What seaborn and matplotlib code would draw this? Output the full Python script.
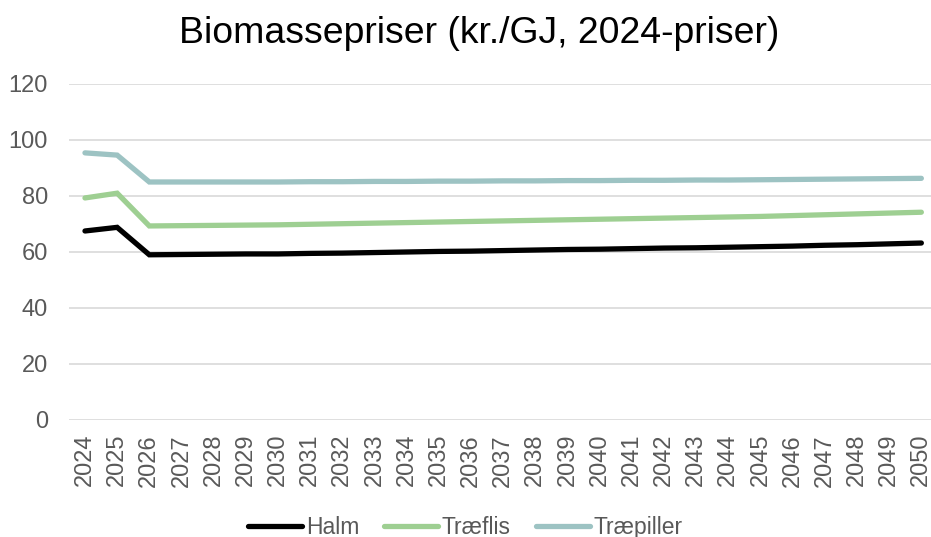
import pandas as pd
import seaborn as sns
import matplotlib.pyplot as plt

years = list(range(2024, 2051))
halm = [67.5, 68.8, 59.0, 59.1, 59.2, 59.3, 59.3, 59.5, 59.6, 59.8, 60.0, 60.2, 60.3, 60.5,
        60.7, 60.9, 61.0, 61.2, 61.4, 61.5, 61.7, 61.9, 62.1, 62.4, 62.6, 62.9, 63.2]
traeflis = [79.3, 81.0, 69.3, 69.4, 69.5, 69.6, 69.7, 69.9, 70.1, 70.3, 70.5, 70.7, 70.9, 71.1,
            71.3, 71.5, 71.7, 71.9, 72.1, 72.3, 72.5, 72.7, 73.0, 73.3, 73.6, 73.9, 74.2]
traepiller = [95.4, 94.6, 85.0, 85.0, 85.0, 85.0, 85.0, 85.1, 85.1, 85.2, 85.2, 85.3, 85.3, 85.4,
              85.4, 85.5, 85.5, 85.6, 85.6, 85.7, 85.7, 85.8, 85.9, 86.0, 86.1, 86.2, 86.3]
series_names = ["Halm", "Træflis", "Træpiller"]
colors = ["#000000", "#9ecf92", "#9dc3c3"]

df = pd.DataFrame({"År": years, "Halm": halm, "Træflis": traeflis, "Træpiller": traepiller})
df_long = df.melt(id_vars="År", var_name="Type", value_name="Pris")

sns.set_style("white")
plt.rcParams["font.family"] = ["Liberation Sans", "DejaVu Sans"]

fig = plt.figure(figsize=(9.31, 5.37), dpi=100)
ax = fig.add_axes([0.074, 0.2179, 0.926, 0.6257])

sns.lineplot(data=df_long, x="År", y="Pris", hue="Type", hue_order=series_names,
             palette=colors, linewidth=3.8, ax=ax, legend=False)
for line in ax.get_lines():
    line.set_solid_capstyle("round")
    line.set_solid_joinstyle("miter")

ax.set_xlim(2023.5, 2050.3)
ax.set_ylim(0, 120)
ax.set_yticks(range(0, 121, 20))
ax.set_xticks(years)
ax.set_xticklabels([str(y) for y in years], rotation=90)
ax.tick_params(axis="both", labelsize=17, colors="#595959", length=0)
ax.tick_params(axis="y", pad=15)
ax.tick_params(axis="x", pad=10)
ax.yaxis.grid(True, color="#d9d9d9", linewidth=1.2)
ax.set_axisbelow(True)
for s in ax.spines.values():
    s.set_visible(False)
ax.set_xlabel("")
ax.set_ylabel("")

fig.suptitle("Biomassepriser (kr./GJ, 2024-priser)", fontsize=26.9, x=0.5145, y=0.937,
             va="center", color="#000000")

handles = [plt.Line2D([0], [0], color=c, linewidth=3.8, solid_capstyle="round") for c in colors]
fig.legend(handles, series_names, loc="center", bbox_to_anchor=(0.5, 0.018), ncol=3,
           frameon=False, fontsize=16.5, handlelength=2.35, handletextpad=0.17, columnspacing=1.1,
           labelcolor="#595959")

fig.savefig("out.png", dpi=100)
